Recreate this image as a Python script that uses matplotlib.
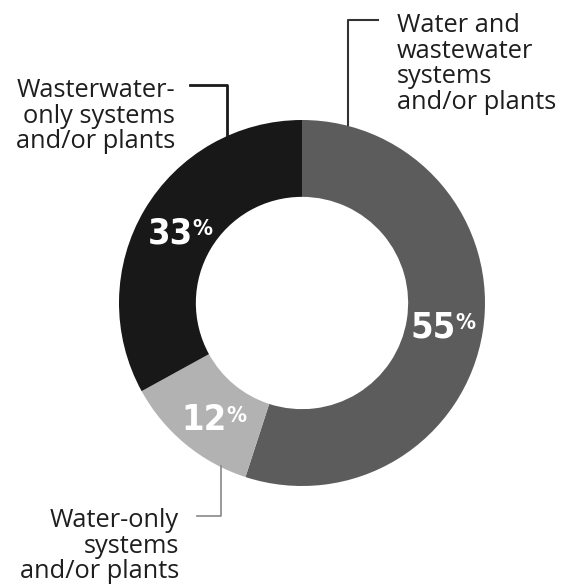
import matplotlib
matplotlib.use("Agg")
import matplotlib.pyplot as plt

# Data (clockwise from top)
categories = ["Water and\nwastewater\nsystems\nand/or plants",
              "Water-only\nsystems\nand/or plants",
              "Wasterwater-\nonly systems\nand/or plants"]
values = [55, 12, 33]
pct_labels = ["55", "12", "33"]
colors = ["#5c5c5c", "#b2b2b2", "#181818"]

W, H = 563, 588
fig = plt.figure(figsize=(W / 100, H / 100), dpi=100)
ax = fig.add_axes([0, 0, 1, 1])

cx, cy = 302, H - 303
R = 183
wedges, _ = ax.pie(values, colors=colors, startangle=90, counterclock=False,
                   center=(cx, cy), radius=R,
                   wedgeprops=dict(width=R * 0.42, linewidth=0))
ax.set_xlim(0, W)
ax.set_ylim(0, H)
ax.set_aspect("equal")
ax.axis("off")

numfont = ["DejaVu Sans"]
# (center x of digits, baseline y in px from top)
pct_pos = [(433, 337), (204, 430), (170, 243)]
for lab, (px, py) in zip(pct_labels, pct_pos):
    t = ax.text(px, H - py, lab, ha="center", va="baseline", color="white",
                fontsize=26, fontweight="bold", family=numfont,
                fontstretch="condensed")
    ax.annotate("%", xy=(1.0, 0.9), xycoords=t, ha="left", va="top",
                color="white", fontsize=16, fontweight="bold", family=numfont,
                fontstretch="condensed")

lblfont = ["Open Sans", "DejaVu Sans"]
fs = 18.3
tc = "#1e1e1e"
# top-right label
ax.text(397, H - 13, categories[0], ha="left", va="top", fontsize=fs,
        family=lblfont, color=tc, linespacing=1.03)
ax.plot([378, 348, 348], [H - 20, H - 20, H - 125], color="#333333", lw=1.5)
# left label
ax.text(175, H - 78, categories[2], ha="right", va="top", fontsize=fs,
        family=lblfont, color=tc, linespacing=1.03)
ax.plot([190, 227, 227], [H - 85, H - 85, H - 137], color="#1a1a1a", lw=2)
# bottom label
ax.text(179, H - 508, categories[1], ha="right", va="top", fontsize=fs,
        family=lblfont, color=tc, linespacing=1.03)
ax.plot([197, 221, 221], [H - 516, H - 516, H - 466], color="#888888", lw=1.2)

fig.savefig("out.png", dpi=100)
